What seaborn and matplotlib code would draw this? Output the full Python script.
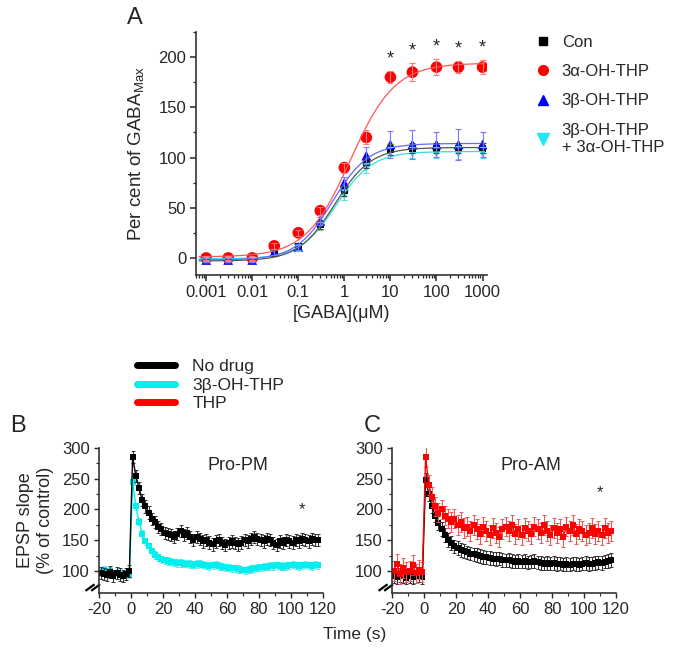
import numpy as np
import pandas as pd
import matplotlib
matplotlib.use('Agg')
import matplotlib.pyplot as plt
import seaborn as sns
from matplotlib.lines import Line2D
from matplotlib.ticker import FixedLocator, MultipleLocator, NullFormatter

# ---------------- Panel A data ----------------
gaba_uM = [0.001, 0.003, 0.01, 0.03, 0.1, 0.3, 1, 3, 10, 30, 100, 300, 1000]
gaba_ticks = [0.001, 0.01, 0.1, 1, 10, 100, 1000]
gaba_tick_labels = ['0.001', '0.01', '0.1', '1', '10', '100', '1000']

con_mean = [-3, -3, -3, 5, 11, 33, 67, 95, 108, 109, 109, 109, 109]
con_err = [2, 2, 2, 3, 3, 4, 5, 5, 5, 5, 5, 5, 5]
a_thp_mean = [0, 0, 0, 12, 25, 47, 90, 120, 180, 185, 190, 190, 190]
a_thp_err = [2, 2, 2, 3, 3, 4, 5, 7, 6, 9, 8, 6, 7]
b_thp_mean = [-2, -2, -2, 6, 11, 37, 75, 102, 113, 113, 113, 113, 113]
b_thp_err = [2, 2, 2, 3, 3, 4, 6, 8, 13, 14, 12, 15, 12]
ba_thp_mean = [-1, -1, -1, 5, 10, 32, 63, 90, 105, 105, 105, 105, 105]
ba_thp_err = [2, 2, 2, 3, 3, 4, 5, 5, 5, 5, 5, 6, 5]

# Hill-fit parameters (bottom, top, EC50, slope)
fit_con = (-3, 110, 0.62, 1.1)
fit_a = (1, 194, 1.35, 0.9)
fit_b = (-2, 114, 0.55, 1.1)
fit_ba = (-1, 106, 0.66, 1.1)

# ---------------- Panels B, C data ----------------
time_s = list(range(-19, 0, 2)) + list(range(1, 118, 2))

b_nodrug = [97, 95, 93, 98, 92, 96, 94, 92, 95, 100,
            285, 255, 235, 215, 205, 195, 185, 180, 172, 168,
            162, 160, 158, 155, 160, 165, 158, 162, 155, 150,
            155, 152, 148, 150, 146, 143, 148, 150, 145, 142,
            145, 148, 145, 143, 146, 150, 148, 152, 155, 152,
            150, 148, 152, 150, 145, 142, 148, 145, 150, 148,
            146, 150, 148, 152, 150, 148, 152, 150, 150]
b_beta = [98, 102, 96, 100, 95, 97, 93, 95, 96, 94,
          245, 205, 180, 160, 148, 140, 132, 126, 122, 119,
          117, 116, 115, 114, 113, 113, 112, 112, 111, 110,
          111, 112, 110, 109, 108, 109, 110, 108, 107, 106,
          105, 104, 104, 103, 102, 101, 102, 103, 104, 105,
          106, 107, 107, 108, 108, 109, 108, 107, 108, 109,
          110, 109, 108, 109, 110, 109, 108, 110, 109]
c_nodrug = [92, 90, 93, 91, 89, 92, 90, 91, 93, 90,
            248, 225, 205, 190, 178, 168, 158, 150, 145, 140,
            137, 134, 132, 130, 128, 127, 126, 124, 123, 122,
            121, 120, 119, 120, 118, 117, 118, 116, 115, 116,
            115, 116, 114, 115, 116, 114, 113, 112, 113, 112,
            113, 111, 112, 110, 111, 110, 112, 111, 110, 112,
            113, 111, 112, 113, 114, 113, 115, 116, 118]
c_thp = [100, 112, 95, 105, 98, 100, 110, 96, 102, 98,
         285, 240, 220, 205, 195, 200, 190, 185, 180, 185,
         175, 180, 170, 172, 165, 175, 168, 160, 172, 165,
         158, 170, 162, 155, 168, 172, 165, 175, 160, 168,
         158, 170, 165, 160, 172, 168, 162, 175, 165, 158,
         170, 162, 168, 155, 172, 165, 175, 160, 168, 165,
         158, 162, 170, 160, 165, 158, 170, 162, 165]
err_b_nodrug = 10
err_b_beta = 6
err_c_nodrug = 11
err_c_thp = 16

# ---------------- Style ----------------
sns.set_theme(style='ticks')
plt.rcParams['font.family'] = ['Liberation Sans', 'DejaVu Sans']
plt.rcParams['mathtext.fontset'] = 'custom'
plt.rcParams['mathtext.rm'] = 'Liberation Sans'
plt.rcParams['axes.linewidth'] = 1.2
plt.rcParams['axes.edgecolor'] = '#333333'
plt.rcParams['axes.unicode_minus'] = False

W, H = 685, 655
fig = plt.figure(figsize=(W / 100, H / 100), dpi=100)

def fbox(l, t, r, b):
    return [l / W, 1 - b / H, (r - l) / W, (b - t) / H]

# ---------------- Panel A ----------------
axA = fig.add_axes(fbox(196, 32, 487, 275))
xs = np.logspace(np.log10(0.0007), np.log10(1100), 300)

def hill(x, p):
    bot, top, ec, n = p
    return bot + (top - bot) / (1 + (ec / x) ** n)

curves = [(fit_ba, '#33dddd'), (fit_con, '#555555'), (fit_b, '#6666ff'), (fit_a, '#ff5555')]
for p, c in curves:
    sns.lineplot(x=xs, y=hill(xs, p), ax=axA, color=c, linewidth=0.9)

series_A = [
    (ba_thp_mean, ba_thp_err, '#22e6f2', 'v', 50),
    (con_mean, con_err, 'black', 's', 26),
    (b_thp_mean, b_thp_err, '#0000ff', '^', 50),
    (a_thp_mean, a_thp_err, '#ff0000', 'o', 70),
]
ecolors = {'black': '#444444', '#0000ff': '#7777ff', '#ff0000': '#ff7777', '#22e6f2': '#55e0e8'}
for m, e, c, mk, s in series_A:
    axA.errorbar(gaba_uM, m, yerr=e, fmt='none', ecolor=ecolors[c], elinewidth=0.8, capsize=2.5, capthick=0.8)
    sns.scatterplot(x=gaba_uM, y=m, ax=axA, color=c, marker=mk, s=s, edgecolor='none', linewidth=0)

axA.set_xscale('log')
axA.set_xlim(0.0006, 1250)
axA.set_ylim(-17, 225)
axA.xaxis.set_major_locator(FixedLocator(gaba_ticks))
axA.set_xticklabels(gaba_tick_labels)
minors = [k * 10.0 ** d for d in range(-4, 4) for k in range(2, 10)]
axA.xaxis.set_minor_locator(FixedLocator([v for v in minors if 0.0006 < v < 1250]))
axA.xaxis.set_minor_formatter(NullFormatter())
axA.yaxis.set_major_locator(MultipleLocator(50))
axA.yaxis.set_minor_locator(MultipleLocator(25))
axA.tick_params(axis='both', which='major', labelsize=12, length=4, width=1.1, direction='out', pad=3)
axA.tick_params(axis='both', which='minor', length=2.5, width=0.9, direction='out')
sns.despine(ax=axA)
axA.set_xlabel('[GABA](μM)', fontsize=13, labelpad=4)
axA.set_ylabel('Per cent of GABA$_{\\mathregular{Max}}$', fontsize=13.5, labelpad=8)
for x, m, e in zip(gaba_uM[8:], a_thp_mean[8:], a_thp_err[8:]):
    axA.text(x, m + e + 4, '*', ha='center', va='bottom', fontsize=13)

leg_handles = [
    Line2D([], [], linestyle='none', marker='s', color='black', markersize=5.5),
    Line2D([], [], linestyle='none', marker='o', color='#ff0000', markersize=7),
    Line2D([], [], linestyle='none', marker='^', color='#0000ff', markersize=7),
    Line2D([], [], linestyle='none', marker='v', color='#22e6f2', markersize=9),
]
leg_labels = ['Con', '3α-OH-THP', '3β-OH-THP', '3β-OH-THP\n+ 3α-OH-THP']
fig.legend(leg_handles, leg_labels, loc='upper left', bbox_to_anchor=(520 / W, 1 - 20 / H),
           frameon=False, fontsize=12, handlelength=1.0, handletextpad=0.6, labelspacing=0.85)

fig.text(135 / W, 1 - 18 / H, 'A', fontsize=17, ha='center', va='center')

# ---------------- Panels B, C ----------------
def time_panel(ax, series, label_text, star_xy, ylabel):
    for y, err, c, ec in series:
        ax.errorbar(time_s, y, yerr=err, fmt='none', ecolor=ec, elinewidth=0.8, capsize=1.5, capthick=0.7)
        sns.lineplot(x=time_s, y=y, ax=ax, color=c, linewidth=1.0, marker='s', markersize=5,
                     markeredgewidth=0, sort=False)
    ax.set_xlim(-20, 120)
    ax.set_ylim(64, 300)
    ax.xaxis.set_major_locator(MultipleLocator(20))
    ax.xaxis.set_minor_locator(MultipleLocator(10))
    ax.yaxis.set_major_locator(FixedLocator([100, 150, 200, 250, 300]))
    ax.yaxis.set_minor_locator(FixedLocator([125, 175, 225, 275]))
    ax.tick_params(axis='both', which='major', labelsize=12, length=3.5, width=1.0, direction='out', pad=3)
    ax.tick_params(axis='both', which='minor', length=2, width=0.8, direction='out')
    sns.despine(ax=ax)
    ax.set_xlabel('')
    if ylabel:
        ax.set_ylabel('EPSP slope\n(% of control)', fontsize=13, labelpad=6, linespacing=1.2)
    else:
        ax.set_ylabel('')
    ax.text(0.62, 0.88, label_text, transform=ax.transAxes, fontsize=13, ha='center', va='center')
    ax.text(star_xy[0], star_xy[1], '*', fontsize=12, ha='center', va='center')
    for dx in (0.0, 0.025):
        ax.plot([-0.06 + dx, -0.02 + dx], [0.015, 0.06], transform=ax.transAxes, color='black',
                linewidth=1.6, clip_on=False, solid_capstyle='butt')

axB = fig.add_axes(fbox(99, 448, 323, 593))
time_panel(axB, [(b_beta, err_b_beta, '#00f0f0', '#55eeee'),
                 (b_nodrug, err_b_nodrug, 'black', '#333333')],
           'Pro-PM', (107, 200), True)

axC = fig.add_axes(fbox(392, 448, 616, 593))
time_panel(axC, [(c_nodrug, err_c_nodrug, 'black', '#333333'),
                 (c_thp, err_c_thp, '#ff0000', '#ee5555')],
           'Pro-AM', (110, 228), False)

fig.text(18 / W, 1 - 426 / H, 'B', fontsize=17, ha='center', va='center')
fig.text(372 / W, 1 - 426 / H, 'C', fontsize=17, ha='center', va='center')
fig.text(355 / W, 1 - 634 / H, 'Time (s)', fontsize=12.5, ha='center', va='center')

legB = [Line2D([], [], color='black', linewidth=5),
        Line2D([], [], color='#00f0f0', linewidth=5),
        Line2D([], [], color='#ff0000', linewidth=5)]
fig.legend(legB, ['No drug', '3β-OH-THP', 'THP'], loc='upper left',
           bbox_to_anchor=(130 / W, 1 - 352 / H), frameon=False, fontsize=12.5,
           handlelength=2.2, handletextpad=1.0, labelspacing=0.2, borderaxespad=0)

fig.savefig('out.png', dpi=100)
